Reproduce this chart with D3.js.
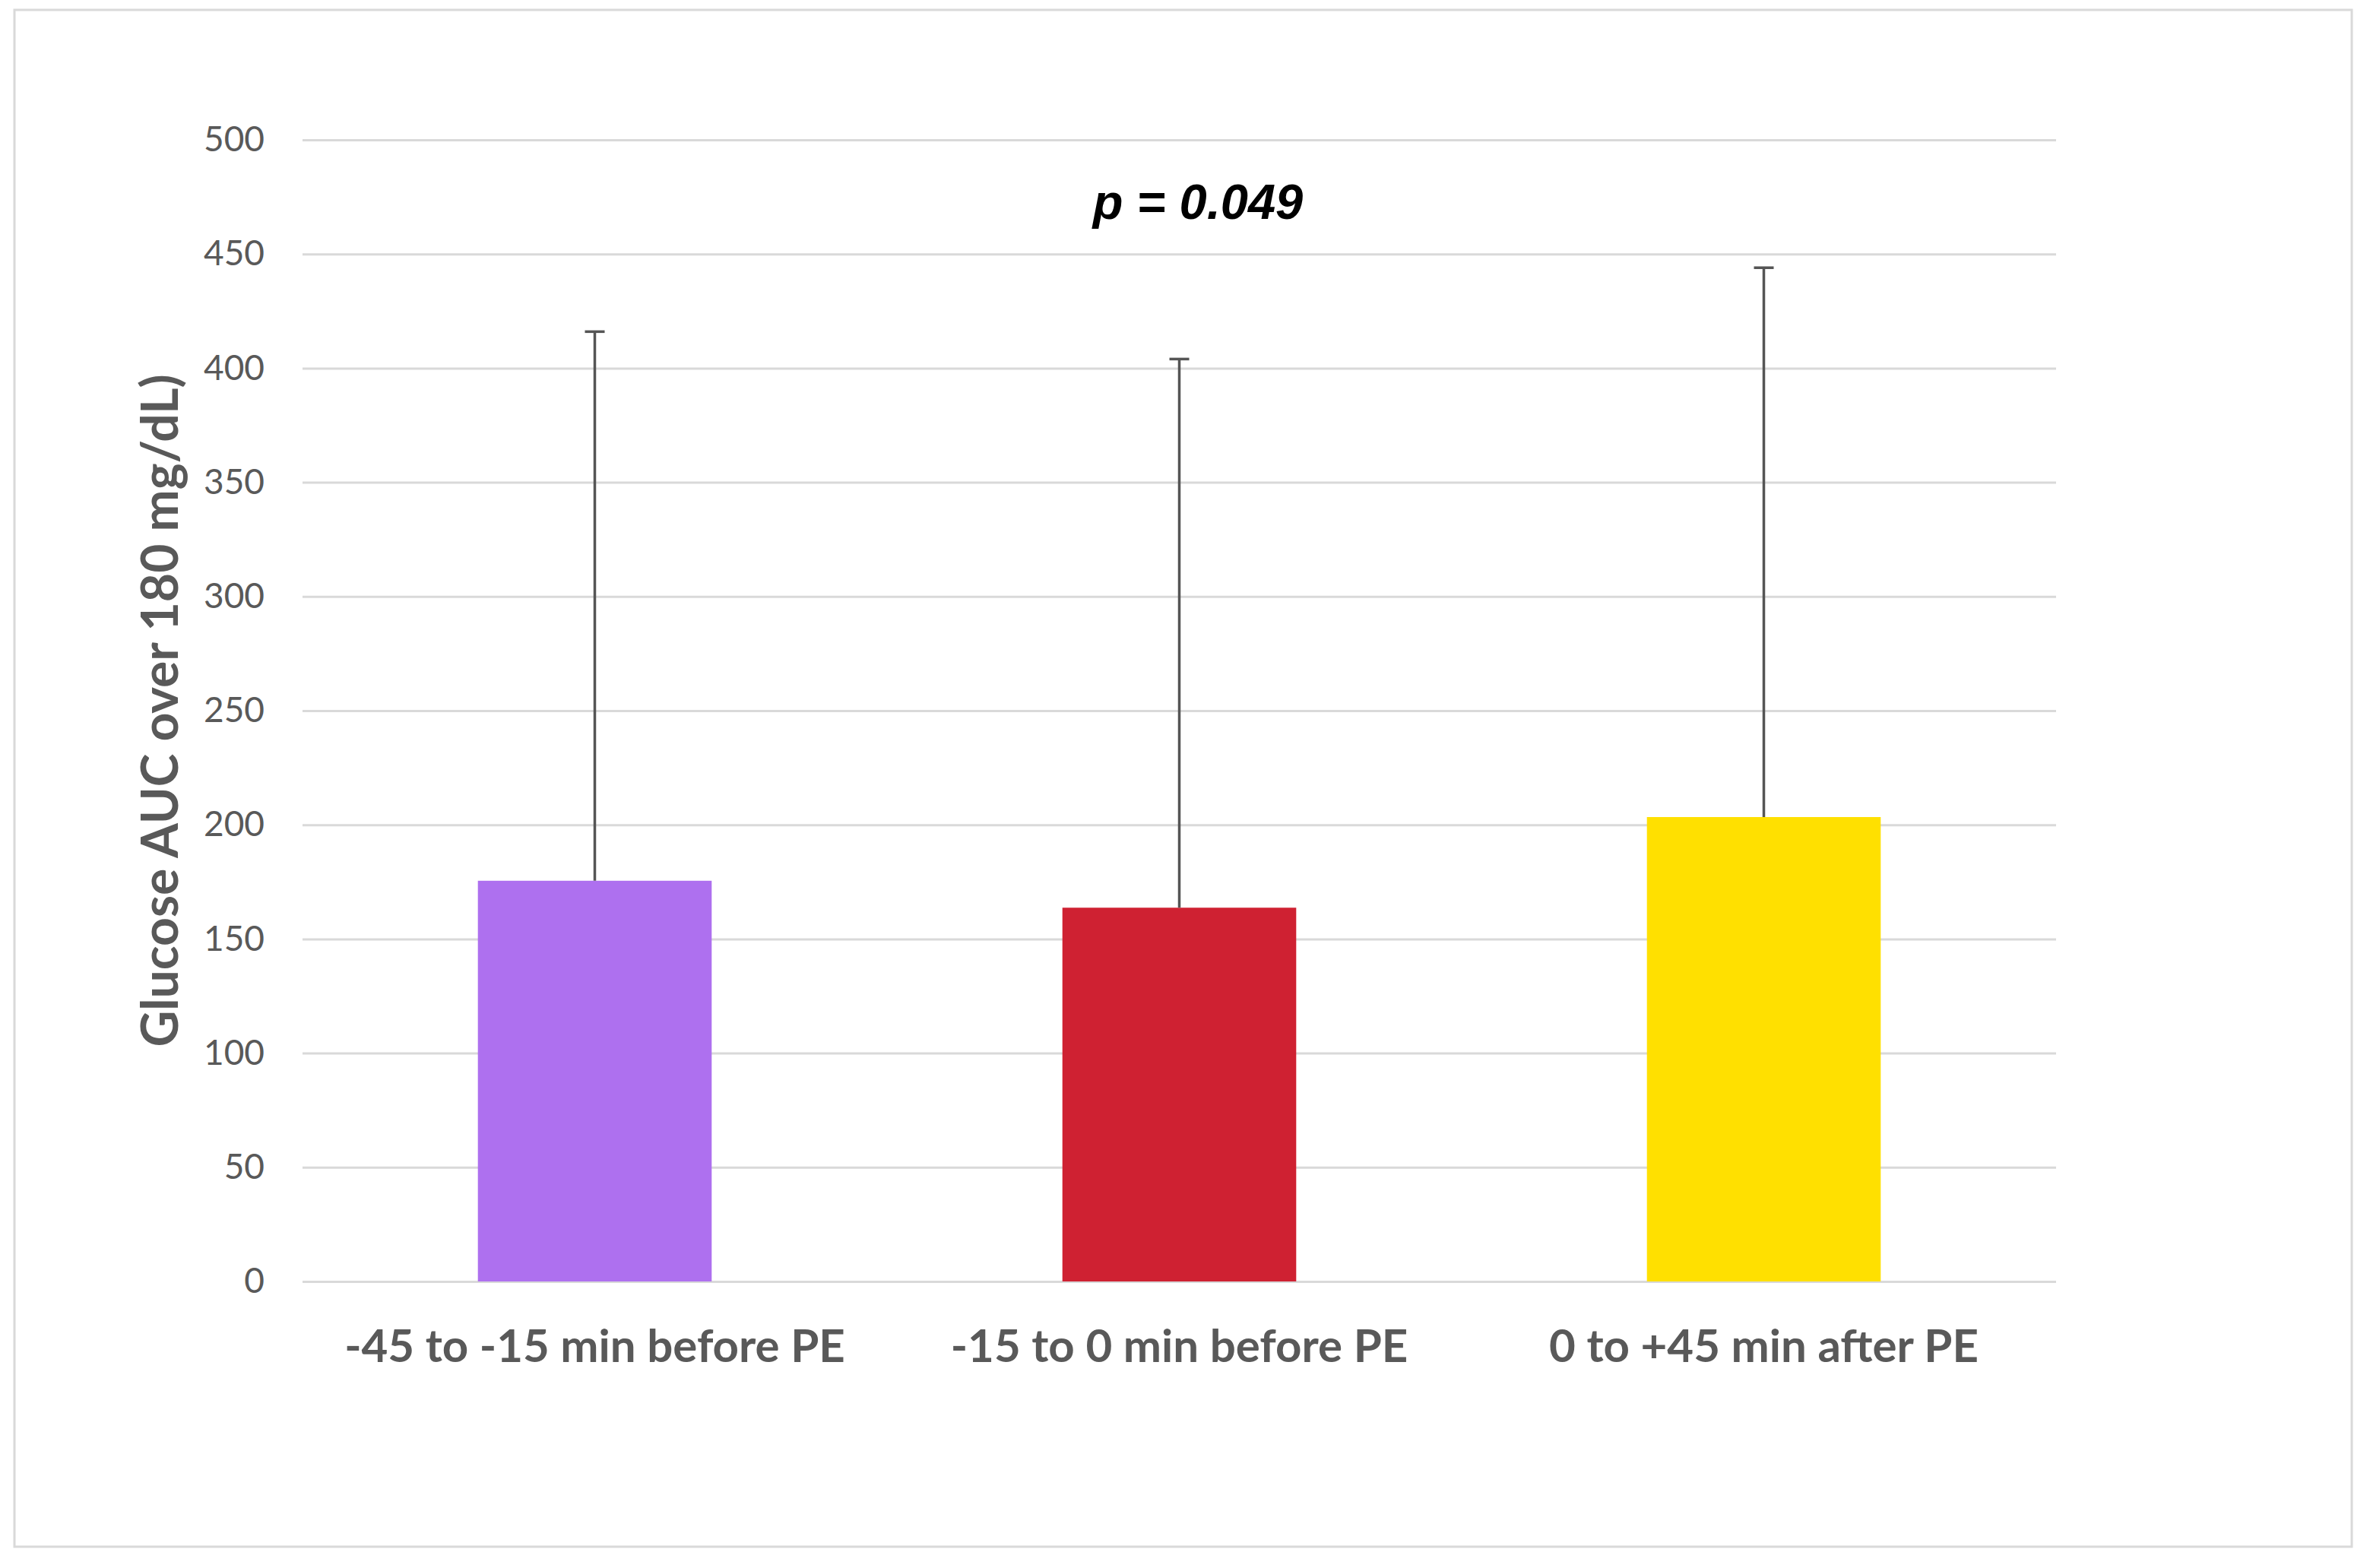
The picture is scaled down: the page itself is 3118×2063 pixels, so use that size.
<!DOCTYPE html>
<html>
<head>
<meta charset="utf-8">
<script src="https://cdn.jsdelivr.net/npm/d3@7"></script>
<style>
  html, body { margin: 0; padding: 0; background: #ffffff; }
  svg { display: block; }
</style>
</head>
<body>
<script>
// ---- Data ----
const categories = ["-45 to -15 min before PE", "-15 to 0 min before PE", "0 to +45 min after PE"];
const means = [175.5, 163.7, 203.4];
const upperErrors = [416, 404, 444];
const barColors = ["#ae70ef", "#cf2132", "#ffe000"];
const yTicks = [0, 50, 100, 150, 200, 250, 300, 350, 400, 450, 500];
const yTitle = "Glucose AUC over 180 mg/dL)";
const annotation = "p = 0.049";

// ---- Layout ----
const W = 3118, H = 2063;
const plot = { left: 398, right: 2705, top: 184, bottom: 1686 };

const svg = d3.select("body").append("svg").attr("width", W).attr("height", H);

svg.append("rect")
  .attr("x", 19).attr("y", 13).attr("width", 3094 - 19).attr("height", 2035 - 13)
  .attr("fill", "#ffffff").attr("stroke", "#d9d9d9").attr("stroke-width", 3);

const x = d3.scaleBand().domain(categories).range([plot.left, plot.right])
  .paddingInner(0.6).paddingOuter(0.3);
const y = d3.scaleLinear().domain([0, 500]).range([plot.bottom, plot.top]);

// gridlines + y tick labels via axis
const yAxis = d3.axisLeft(y).tickValues(yTicks).tickSize(-(plot.right - plot.left)).tickPadding(50);
const gy = svg.append("g").attr("transform", `translate(${plot.left},0)`).call(yAxis);
gy.select(".domain").remove();
gy.selectAll(".tick line").attr("stroke", "#d9d9d9").attr("stroke-width", 3);
gy.selectAll(".tick text")
  .attr("font-family", "Lato, 'Open Sans', sans-serif")
  .attr("font-size", 46).attr("fill", "#595959");

// bars
svg.append("g").selectAll("rect").data(categories).join("rect")
  .attr("x", d => x(d))
  .attr("width", x.bandwidth())
  .attr("y", (d, i) => y(means[i]))
  .attr("height", (d, i) => y(0) - y(means[i]))
  .attr("fill", (d, i) => barColors[i]);

// error bars (upper only)
const capHalf = 13;
const eg = svg.append("g").attr("stroke", "#555555").attr("stroke-width", 3.5);
categories.forEach((c, i) => {
  const cx = x(c) + x.bandwidth() / 2;
  eg.append("line").attr("x1", cx).attr("x2", cx).attr("y1", y(means[i])).attr("y2", y(upperErrors[i]));
  eg.append("line").attr("x1", cx - capHalf).attr("x2", cx + capHalf).attr("y1", y(upperErrors[i])).attr("y2", y(upperErrors[i]));
});

// x axis labels
const xAxis = d3.axisBottom(x).tickSize(0).tickPadding(0);
const gx = svg.append("g").attr("transform", `translate(0,${plot.bottom})`).call(xAxis);
gx.select(".domain").remove();
gx.selectAll(".tick text")
  .attr("font-family", "Lato, 'Open Sans', sans-serif")
  .attr("font-weight", "bold")
  .attr("font-size", 60).attr("fill", "#595959")
  .attr("dy", null).attr("y", 106);

// y title
svg.append("text")
  .attr("transform", `translate(234,${(plot.top + plot.bottom) / 2}) rotate(-90)`)
  .attr("text-anchor", "middle")
  .attr("font-family", "Lato, 'Open Sans', sans-serif")
  .attr("font-weight", "bold")
  .attr("font-size", 66).attr("fill", "#595959")
  .text(yTitle);

// annotation
svg.append("text")
  .attr("x", 1576).attr("y", 288)
  .attr("text-anchor", "middle")
  .attr("font-family", "'Liberation Sans', Arial, sans-serif")
  .attr("font-weight", "bold").attr("font-style", "italic")
  .attr("font-size", 65).attr("fill", "#000000")
  .text(annotation);
</script>
</body>
</html>
